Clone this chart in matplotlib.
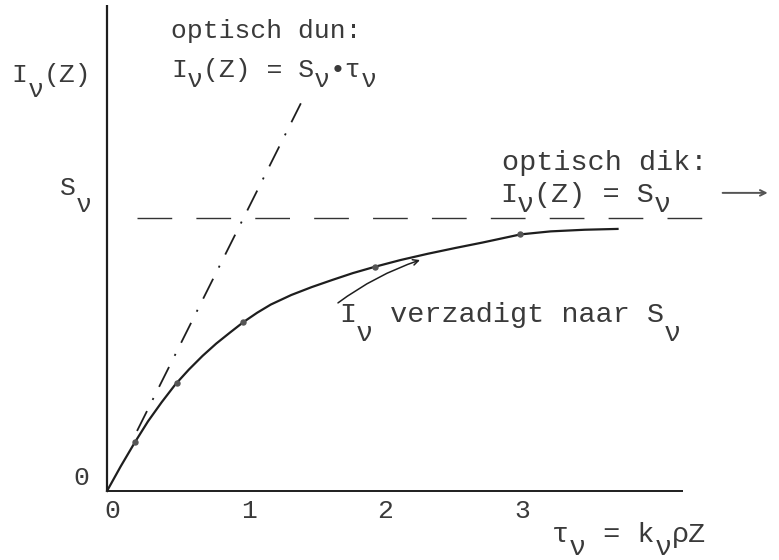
import numpy as np
import matplotlib
matplotlib.use("Agg")
import matplotlib.pyplot as plt

plt.rcParams['font.family'] = ['Liberation Mono', 'DejaVu Sans Mono']
plt.rcParams['lines.scale_dashes'] = False

# optical depth tau_nu and intensity I_nu in units of S_nu
tau_curve = [0.0, 0.1, 0.2, 0.3, 0.4, 0.5, 0.6, 0.7, 0.8, 0.9, 1.0, 1.1, 1.2,
             1.35, 1.5, 1.65, 1.8, 1.96, 2.15, 2.35, 2.55, 2.75, 3.03, 3.25,
             3.5, 3.74]
I_curve = [0.0, 0.09, 0.175, 0.255, 0.325, 0.39, 0.445, 0.495, 0.54, 0.58,
           0.619, 0.653, 0.683, 0.718, 0.747, 0.773, 0.798, 0.821, 0.846, 0.869,
           0.89, 0.91, 0.94, 0.951, 0.957, 0.96]
tau_dots = [0.205, 0.513, 0.996, 1.963, 3.026]
I_dots = [0.179, 0.396, 0.619, 0.821, 0.942]

# optisch dun: I = S * tau
tau_thin = [0.22, 1.42]
I_thin = [0.22, 1.42]
# optisch dik: I = S
tau_thick = [0.22, 4.36]
I_thick = [1.0, 1.0]

tau_ticks = [0, 1, 2, 3]
tick_labels = ['0', '1', '2', '3']

ink = '#1e1e1e'
type_ink = '#3a3a3a'

fig = plt.figure(figsize=(7.79, 5.6), dpi=100)
ax = fig.add_axes([0, 0, 1, 1])
ax.set_xlim(-0.784, 4.923)
ax.set_ylim(-0.2527, 1.7985)
ax.axis('off')


def typed(x, y, s, drop, size=19.0):
    # typewriter line: fixed pitch, the nu subscripts struck lower
    pitch = 0.6 * size
    i = 0
    while i < len(s):
        if s[i] == 'ν':
            ax.annotate('ν', (x, y), xytext=(i * pitch, -drop),
                        textcoords='offset points', ha='left', va='baseline',
                        fontsize=size, color=type_ink)
            i += 1
            continue
        j = i
        while j < len(s) and s[j] != 'ν':
            j += 1
        chunk = s[i:j]
        if chunk.strip():
            ax.annotate(chunk, (x, y), xytext=(i * pitch, 0),
                        textcoords='offset points', ha='left', va='baseline',
                        fontsize=size, color=type_ink)
        i = j


# axes
ax.plot([0, 4.22], [0, 0], color=ink, lw=1.4, solid_capstyle='butt')
ax.plot([0, 0], [0, 1.78], color=ink, lw=1.6, solid_capstyle='butt')

# limiting cases
ax.plot(tau_thick, I_thick, color='#333333', lw=1.0, dashes=(25, 17.4))
ax.plot(tau_thin, I_thin, color=ink, lw=1.3, dashes=(16, 9, 1.5, 9))

# growth curve
ax.plot(tau_curve, I_curve, color=ink, lw=1.6, solid_joinstyle='round')
ax.plot(tau_dots, I_dots, 'o', color='#555555', ms=3.6)

# arrows
ax.annotate('', xy=(2.293, 0.846), xytext=(1.692, 0.689),
            arrowprops=dict(arrowstyle='->', color=ink, lw=1.1,
                            connectionstyle='arc3,rad=-0.08', shrinkA=0, shrinkB=0))
ax.annotate('', xy=(4.84, 1.092), xytext=(4.51, 1.092),
            arrowprops=dict(arrowstyle='->', color='#555555', lw=1.4,
                            shrinkA=0, shrinkB=0))

# tick labels
for t, lab in zip(tau_ticks, tick_labels):
    ax.text(t + 0.04, -0.099, lab, ha='center', va='baseline', fontsize=19, color=type_ink)
ax.text(-0.19, 0.022, '0', ha='center', va='baseline', fontsize=19, color=type_ink)

# labels
typed(-0.70, 1.498, 'Iν(Z)', 11)
typed(-0.344, 1.084, 'Sν', 12)
typed(0.469, 1.659, 'optisch dun:', 6)
typed(0.469, 1.516, 'Iν(Z) = Sν•τν', 7)
typed(2.894, 1.176, 'optisch dik:', 7, size=20.5)
typed(2.879, 1.059, 'Iν(Z) = Sν', 7, size=20.5)
typed(1.70, 0.619, 'Iν verzadigt naar Sν', 14, size=20.5)
typed(3.26, -0.187, 'τν = kνρZ', 9, size=20.5)

fig.savefig('out.png', dpi=100)
